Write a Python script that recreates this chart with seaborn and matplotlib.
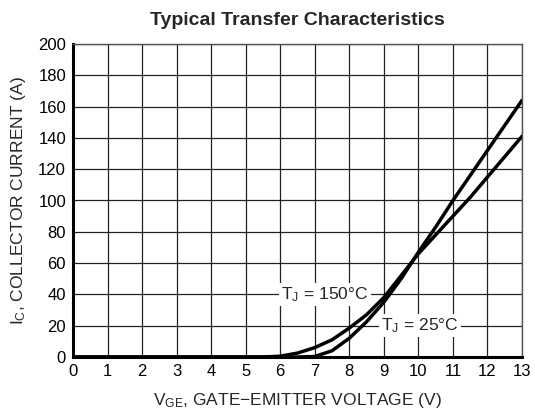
import numpy as np
import pandas as pd
import matplotlib
matplotlib.use("Agg")
import matplotlib.pyplot as plt
import seaborn as sns

# Data
vge = [0, 1, 2, 3, 4, 5, 5.5, 6, 6.5, 7, 7.5, 8, 8.5, 9, 9.5, 10, 10.5, 11, 11.5, 12, 12.5, 13]
ic_150 = [0, 0, 0, 0, 0, 0, 0, 0.5, 2.5, 6, 11, 18.5, 27, 38, 52, 66, 78, 90, 102, 115, 128, 141]
ic_25 = [0, 0, 0, 0, 0, 0, 0, 0, 0, 0.3, 4, 12, 22.5, 35, 50, 67, 83, 100, 116, 132, 148, 164]
series_labels = ["T$_{\\mathrm{J}}$ = 150°C", "T$_{\\mathrm{J}}$ = 25°C"]
x_ticks = list(range(0, 14))
y_ticks = list(range(0, 201, 20))

df = pd.concat([
    pd.DataFrame({"vge": vge, "ic": ic_150, "series": series_labels[0]}),
    pd.DataFrame({"vge": vge, "ic": ic_25, "series": series_labels[1]}),
])

sns.set_style("white")
plt.rcParams["font.family"] = ["Liberation Sans", "DejaVu Sans"]
plt.rcParams["mathtext.fontset"] = "custom"
plt.rcParams["mathtext.rm"] = "Liberation Sans"
plt.rcParams["mathtext.it"] = "Liberation Sans"
plt.rcParams["mathtext.default"] = "regular"

fig = plt.figure(figsize=(5.35, 4.15), dpi=100)
ax = fig.add_axes([73/535, 1 - 357/415, (522-73)/535, (357-44)/415])

sns.lineplot(data=df, x="vge", y="ic", hue="series", palette=["black", "black"],
             linewidth=2.5, legend=False, ax=ax, zorder=3)

ax.set_xlim(0, 13)
ax.set_ylim(0, 200)
ax.set_xticks(x_ticks)
ax.set_yticks(y_ticks)
ax.grid(True, color="#222222", linewidth=0.9)
ax.set_axisbelow(True)
ax.tick_params(axis="both", length=0, labelsize=12, colors="black", pad=5)

for side in ["top", "right"]:
    ax.spines[side].set_color("#555555")
    ax.spines[side].set_linewidth(1.0)
for side in ["left", "bottom"]:
    ax.spines[side].set_color("black")
    ax.spines[side].set_linewidth(2.2)

ax.set_xlabel("V$_{\\mathrm{GE}}$, GATE\u2212EMITTER VOLTAGE (V)", fontsize=12.5, labelpad=9)
ax.set_ylabel("I$_{\\mathrm{C}}$, COLLECTOR CURRENT (A)", fontsize=12.5, labelpad=7)
ax.set_title("Typical Transfer Characteristics", fontsize=14, fontweight="bold", pad=14)

ax.text(7.3, 40, series_labels[0], fontsize=12.6, ha="center", va="center",
        bbox=dict(facecolor="white", edgecolor="none", pad=1.5), zorder=2)
ax.text(10.05, 20, series_labels[1], fontsize=12.6, ha="center", va="center",
        bbox=dict(facecolor="white", edgecolor="none", pad=1.5), zorder=2)

fig.savefig("out.png", dpi=100)
